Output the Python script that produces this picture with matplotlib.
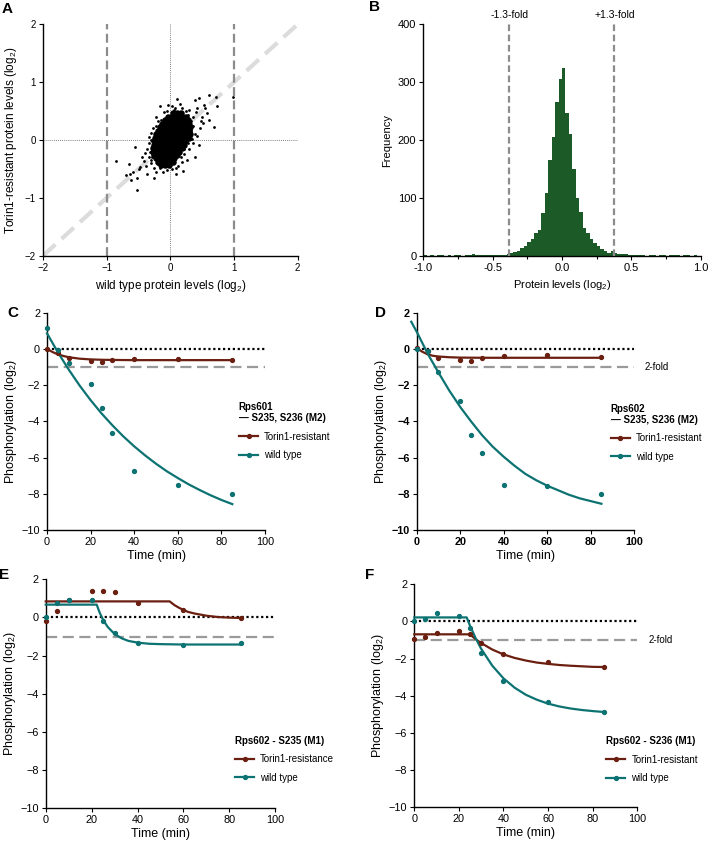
import numpy as np
import matplotlib
matplotlib.use('Agg')
import matplotlib.pyplot as plt
from matplotlib.lines import Line2D
from matplotlib.ticker import MultipleLocator

plt.rcParams['font.family'] = ['Liberation Sans', 'DejaVu Sans']
plt.rcParams['mathtext.fontset'] = 'custom'
plt.rcParams['mathtext.rm'] = 'Liberation Sans'
plt.rcParams['mathtext.it'] = 'Liberation Sans:italic'
plt.rcParams['mathtext.bf'] = 'Liberation Sans:bold'
plt.rcParams['axes.linewidth'] = 1.0

BROWN = '#6b1f10'
TEAL = '#0d7272'
GREEN = '#1c5a28'
GREY = '#8c8c8c'

# ---- A: protein levels, wild type vs Torin1-resistant (log2)
# dense core of the cloud, rows of (y, [x...])
dense_rows = [
    (0.46, [0.04, 0.10, 0.17]),
    (0.40, [-0.04, 0.02, 0.08, 0.14, 0.20, 0.25]),
    (0.34, [-0.08, -0.02, 0.04, 0.10, 0.16, 0.22, 0.28]),
    (0.28, [-0.13, -0.07, -0.01, 0.05, 0.11, 0.17, 0.23, 0.29]),
    (0.22, [-0.16, -0.10, -0.04, 0.02, 0.08, 0.14, 0.20, 0.26, 0.31]),
    (0.16, [-0.19, -0.13, -0.07, -0.01, 0.05, 0.11, 0.17, 0.23, 0.29]),
    (0.10, [-0.22, -0.16, -0.10, -0.04, 0.02, 0.08, 0.14, 0.20, 0.26, 0.31]),
    (0.04, [-0.24, -0.18, -0.12, -0.06, 0.00, 0.06, 0.12, 0.18, 0.24, 0.29]),
    (-0.02, [-0.25, -0.19, -0.13, -0.07, -0.01, 0.05, 0.11, 0.17, 0.23]),
    (-0.08, [-0.26, -0.20, -0.14, -0.08, -0.02, 0.04, 0.10, 0.16, 0.21]),
    (-0.14, [-0.27, -0.21, -0.15, -0.09, -0.03, 0.03, 0.09, 0.15, 0.19]),
    (-0.20, [-0.27, -0.21, -0.15, -0.09, -0.03, 0.03, 0.09, 0.14]),
    (-0.26, [-0.26, -0.20, -0.14, -0.08, -0.02, 0.04, 0.10]),
    (-0.32, [-0.23, -0.17, -0.11, -0.05, 0.01, 0.06]),
    (-0.38, [-0.19, -0.13, -0.07, -0.01, 0.04]),
    (-0.44, [-0.14, -0.08, -0.02]),
]
sparse_pts = [
    (0.61, 0.77), (0.72, 0.75), (0.98, 0.75), (0.74, 0.59), (0.45, 0.73), (0.38, 0.69),
    (0.11, 0.70), (0.53, 0.61), (0.58, 0.46), (0.68, 0.23), (0.45, -0.09), (0.52, 0.29),
    (0.20, -0.53), (0.09, -0.59), (-0.25, -0.66), (-0.53, -0.65), (-0.63, -0.58),
    (-0.65, -0.41), (-0.85, -0.37), (-0.62, -0.70), (-0.53, -0.87), (-0.56, -0.12),
    (-0.40, -0.23), (-0.48, -0.46), (-0.37, -0.58), (-0.17, 0.58), (-0.03, 0.61),
    (0.03, 0.58), (-0.23, 0.40), (0.47, 0.20), (0.42, 0.06), (0.26, -0.35), (0.39, -0.29),
    (-0.30, 0.12), (-0.34, -0.06), (-0.42, -0.37), (-0.29, -0.29), (-0.05, -0.52),
    (-0.17, -0.49), (0.36, 0.40), (0.40, 0.48), (0.30, 0.52), (0.25, 0.50), (0.18, 0.55),
    (-0.10, 0.48), (-0.15, 0.35), (-0.22, 0.25), (-0.28, 0.20), (-0.33, 0.05),
    (-0.36, -0.15), (-0.34, -0.30), (-0.30, -0.40), (-0.26, -0.48), (-0.22, -0.55),
    (-0.12, -0.56), (0.02, -0.50), (0.12, -0.45), (0.18, -0.38), (0.22, -0.25),
    (0.30, -0.15), (0.35, -0.05), (0.38, 0.10), (0.36, 0.25), (0.33, 0.33), (0.05, 0.52),
    (0.28, 0.44), (-0.45, -0.30), (-0.50, -0.50), (-0.58, -0.55), (-0.70, -0.60),
    (-0.38, -0.45), (0.15, 0.62), (0.50, 0.40), (0.55, 0.55), (0.60, 0.35), (0.42, 0.55),
    (0.48, 0.32), (-0.32, -0.20), (-0.31, 0.00), (0.27, -0.05), (0.33, 0.18),
    (0.34, 0.02), (-0.20, 0.32), (0.24, 0.38), (0.09, -0.49), (-0.20, -0.42),
    (0.16, -0.30), (-0.31, -0.35), (0.21, -0.15), (0.08, 0.55), (-0.05, 0.50),
]

# ---- B: histogram of protein levels, bins of 0.025 from -1 to 1
hist_counts = [
    1, 0, 1, 0, 1, 1, 0, 1, 0, 1, 1, 0, 1, 1, 3, 2, 1, 1, 1, 2,
    1, 1, 2, 2, 3, 5, 7, 9, 13, 18, 25, 30, 40, 45, 74, 108, 165, 205, 265, 305,
    325, 246, 210, 150, 100, 76, 48, 40, 30, 23, 18, 12, 8, 6, 9, 6, 4, 3, 3, 2,
    2, 1, 1, 1, 0, 1, 1, 0, 1, 1, 0, 1, 1, 1, 0, 1, 1, 0, 1, 0,
]
fold_13 = 0.3785  # log2(1.3)

# ---- C-F: phosphorylation time courses
times = [0, 5, 10, 20, 25, 30, 40, 60, 85]

c_tr = [0, -0.2, -0.52, -0.65, -0.72, -0.6, -0.55, -0.55, -0.6]
c_wt = [1.15, -0.08, -0.78, -1.92, -3.26, -4.63, -6.74, -7.51, -8.01]
c_tr_fit_t = [0, 2.5, 5, 7.5, 10, 15, 20, 25, 30, 40, 60, 85]
c_tr_fit = [0, -0.17, -0.3, -0.39, -0.46, -0.54, -0.58, -0.6, -0.61, -0.62, -0.62, -0.62]
c_wt_fit_t = [0, 5, 10, 15, 20, 25, 30, 35, 40, 45, 50, 55, 60, 65, 70, 75, 80, 85]
c_wt_fit = [0.86, -0.19, -1.15, -2.03, -2.83, -3.56, -4.22, -4.83, -5.38, -5.88, -6.34,
            -6.76, -7.13, -7.48, -7.79, -8.08, -8.34, -8.57]

d_tr = [0.07, -0.12, -0.52, -0.61, -0.67, -0.48, -0.41, -0.36, -0.47]
d_wt = [0.0, -0.14, -1.28, -2.86, -4.78, -5.75, -7.52, -7.57, -8.01]
d_tr_fit_t = [0, 2.5, 5, 7.5, 10, 15, 20, 30, 85]
d_tr_fit = [0.05, -0.15, -0.3, -0.38, -0.42, -0.46, -0.48, -0.49, -0.49]
d_wt_fit_t = [-2.5, 0, 5, 10, 15, 20, 25, 30, 35, 40, 45, 50, 55, 60, 65, 70, 75, 80, 85]
d_wt_fit = [1.5, 0.95, -0.25, -1.3, -2.3, -3.2, -4.0, -4.75, -5.4, -5.95, -6.45, -6.9,
            -7.25, -7.55, -7.8, -8.05, -8.25, -8.4, -8.55]

e_tr = [-0.17, 0.32, 0.9, 1.41, 1.37, 1.32, 0.78, 0.39, -0.03]
e_wt = [0.0, 0.76, 0.93, 0.9, -0.17, -0.83, -1.32, -1.46, -1.32]
e_tr_fit_t = [0, 54, 56, 58, 60, 62, 65, 70, 75, 80, 85]
e_tr_fit = [0.84, 0.84, 0.65, 0.51, 0.39, 0.29, 0.2, 0.09, 0.02, -0.01, -0.03]
e_wt_fit_t = [0, 22.2, 23.5, 25, 27, 30, 33, 36, 40, 45, 50, 60, 85]
e_wt_fit = [0.67, 0.67, 0.25, -0.13, -0.50, -0.87, -1.09, -1.23, -1.32, -1.38, -1.40, -1.42, -1.42]

f_tr = [-0.92, -0.82, -0.6, -0.51, -0.65, -1.15, -1.75, -2.2, -2.43]
f_wt = [0.0, 0.13, 0.44, 0.31, -0.33, -1.69, -3.19, -4.32, -4.87]
f_tr_fit_t = [0, 25, 27.5, 30, 35, 40, 45, 50, 55, 60, 65, 70, 75, 80, 85]
f_tr_fit = [-0.69, -0.69, -0.95, -1.16, -1.51, -1.77, -1.96, -2.10, -2.21, -2.28, -2.34,
            -2.38, -2.41, -2.44, -2.45]
f_wt_fit_t = [0, 23.5, 25, 27.5, 30, 35, 40, 45, 50, 55, 60, 65, 70, 75, 80, 85]
f_wt_fit = [0.22, 0.22, -0.23, -0.89, -1.47, -2.38, -3.06, -3.56, -3.94, -4.21, -4.42,
            -4.57, -4.68, -4.76, -4.82, -4.87]


def style_axes(ax, tick_size):
    for s in ['top', 'right']:
        ax.spines[s].set_visible(False)
    ax.tick_params(direction='out', length=3, width=0.8, labelsize=tick_size, pad=2)


def kinetics(ax, tr, wt, tr_fit_t, tr_fit, wt_fit_t, wt_fit, title, tr_label,
             anchor, fold_label=False, bold=False):
    style_axes(ax, 7.8)
    ax.plot([0, 100], [0, 0], color='black', lw=1.6, ls=(0, (1, 1.2)), zorder=1)
    ax.plot([0, 100], [-1, -1], color='#9a9a9a', lw=1.6, ls=(0, (5, 2.5)), zorder=1)
    ax.plot(tr_fit_t, tr_fit, color=BROWN, lw=1.6, zorder=3, clip_on=False)
    ax.plot(wt_fit_t, wt_fit, color=TEAL, lw=1.6, zorder=3, clip_on=False)
    ax.plot(times, tr, 'o', color=BROWN, ms=2.8, zorder=4, clip_on=False)
    ax.plot(times, wt, 'o', color=TEAL, ms=2.8, zorder=4, clip_on=False)
    ax.set_xlim(0, 100)
    ax.set_ylim(-10, 2)
    ax.set_xticks(range(0, 101, 20))
    ax.set_yticks(range(-10, 3, 2))
    if bold:
        for lab in ax.get_xticklabels() + ax.get_yticklabels():
            lab.set_fontweight('bold')
    ax.set_xlabel('Time (min)', fontsize=9, labelpad=2)
    ax.set_ylabel('Phosphorylation (log$_2$)', fontsize=9, labelpad=2)
    if fold_label:
        ax.text(105, -1, '2-fold', fontsize=7, va='center', clip_on=False)
    handles = [Line2D([], [], color=BROWN, lw=1.6, marker='o', ms=2.8),
               Line2D([], [], color=TEAL, lw=1.6, marker='o', ms=2.8)]
    ax.legend(handles, [tr_label, 'wild type'], title=title, loc='upper left',
              bbox_to_anchor=anchor, frameon=False, fontsize=7,
              title_fontproperties={'weight': 'bold', 'size': 7}, alignment='left',
              handlelength=2.0, handletextpad=0.6, labelspacing=0.85, borderpad=0,
              borderaxespad=0)


fig = plt.figure(figsize=(7.09, 8.46), dpi=100)

# A
axA = fig.add_axes([0.0607, 0.6978, 0.3592, 0.2735])
style_axes(axA, 7)
axA.plot([-2, 2], [-2, 2], color='#dcdcdc', lw=3, ls=(0, (4, 2)), zorder=1)
axA.axhline(0, color='#555555', lw=0.6, ls=(0, (1, 1.5)), zorder=1)
axA.axvline(0, color='#555555', lw=0.6, ls=(0, (1, 1.5)), zorder=1)
for xv in [-1, 1]:
    axA.axvline(xv, color=GREY, lw=1.6, ls=(0, (4, 2)), zorder=2)
dense_x = [x for y, xs in dense_rows for x in xs]
dense_y = [y for y, xs in dense_rows for x in xs]
axA.scatter(dense_x, dense_y, s=22, color='black', lw=0, zorder=3)
axA.scatter([p[0] for p in sparse_pts], [p[1] for p in sparse_pts], s=4,
            color='black', lw=0, zorder=3)
axA.set_xlim(-2, 2)
axA.set_ylim(-2, 2)
axA.set_xticks([-2, -1, 0, 1, 2])
axA.set_yticks([-2, -1, 0, 1, 2])
axA.set_xlabel('wild type protein levels (log$_2$)', fontsize=8.5, labelpad=4)
axA.set_ylabel('Torin1-resistant protein levels (log$_2$)', fontsize=8.5, labelpad=4)

# B
axB = fig.add_axes([0.597, 0.6974, 0.3913, 0.2742])
style_axes(axB, 8)
edges = np.linspace(-1, 1, len(hist_counts) + 1)
axB.stairs(hist_counts, edges, fill=True, color=GREEN, zorder=2)
for xv, lab in [(-fold_13, '-1.3-fold'), (fold_13, '+1.3-fold')]:
    axB.plot([xv, xv], [0, 400], color=GREY, lw=1.6, ls=(0, (3, 1.6)), zorder=3)
    axB.text(xv, 407, lab, ha='center', va='bottom', fontsize=7.5)
axB.set_xlim(-1, 1)
axB.set_ylim(0, 400)
axB.set_xticks([-1.0, -0.5, 0.0, 0.5, 1.0])
axB.set_xticklabels(['-1.0', '-0.5', '0.0', '0.5', '1.0'])
axB.xaxis.set_minor_locator(MultipleLocator(0.25))
axB.tick_params(which='minor', direction='out', length=2, width=0.8)
axB.set_yticks(range(0, 401, 100))
axB.set_xlabel('Protein levels (log$_2$)', fontsize=8, labelpad=4)
axB.set_ylabel('Frequency', fontsize=8, labelpad=4)

# C-F
axC = fig.add_axes([0.0663, 0.3735, 0.3075, 0.2569])
kinetics(axC, c_tr, c_wt, c_tr_fit_t, c_tr_fit, c_wt_fit_t, c_wt_fit,
         'Rps601\n\u2014 S235, S236 (M2)', 'Torin1-resistant', (0.88, 0.59))
axD = fig.add_axes([0.5877, 0.3735, 0.3065, 0.2569])
kinetics(axD, d_tr, d_wt, d_tr_fit_t, d_tr_fit, d_wt_fit_t, d_wt_fit,
         'Rps602\n\u2014 S235, S236 (M2)', 'Torin1-resistant', (0.893, 0.582),
         fold_label=True, bold=True)
axE = fig.add_axes([0.0645, 0.0446, 0.3238, 0.2707])
kinetics(axE, e_tr, e_wt, e_tr_fit_t, e_tr_fit, e_wt_fit_t, e_wt_fit,
         'Rps602 - S235 (M1)', 'Torin1-resistance', (0.824, 0.315))
axF = fig.add_axes([0.5843, 0.0457, 0.3145, 0.2636])
kinetics(axF, f_tr, f_wt, f_tr_fit_t, f_tr_fit, f_wt_fit_t, f_wt_fit,
         'Rps602 - S236 (M1)', 'Torin1-resistant', (0.86, 0.318), fold_label=True)

# panel letters
for lab, x, y in [('A', 7, 9), ('B', 375, 7), ('C', 13, 313), ('D', 380, 313),
                  ('E', 4, 575), ('F', 370, 575)]:
    fig.text(x / 709, 1 - y / 846, lab, fontsize=11, fontweight='bold',
             ha='center', va='center')

fig.savefig('out.png', dpi=100)
